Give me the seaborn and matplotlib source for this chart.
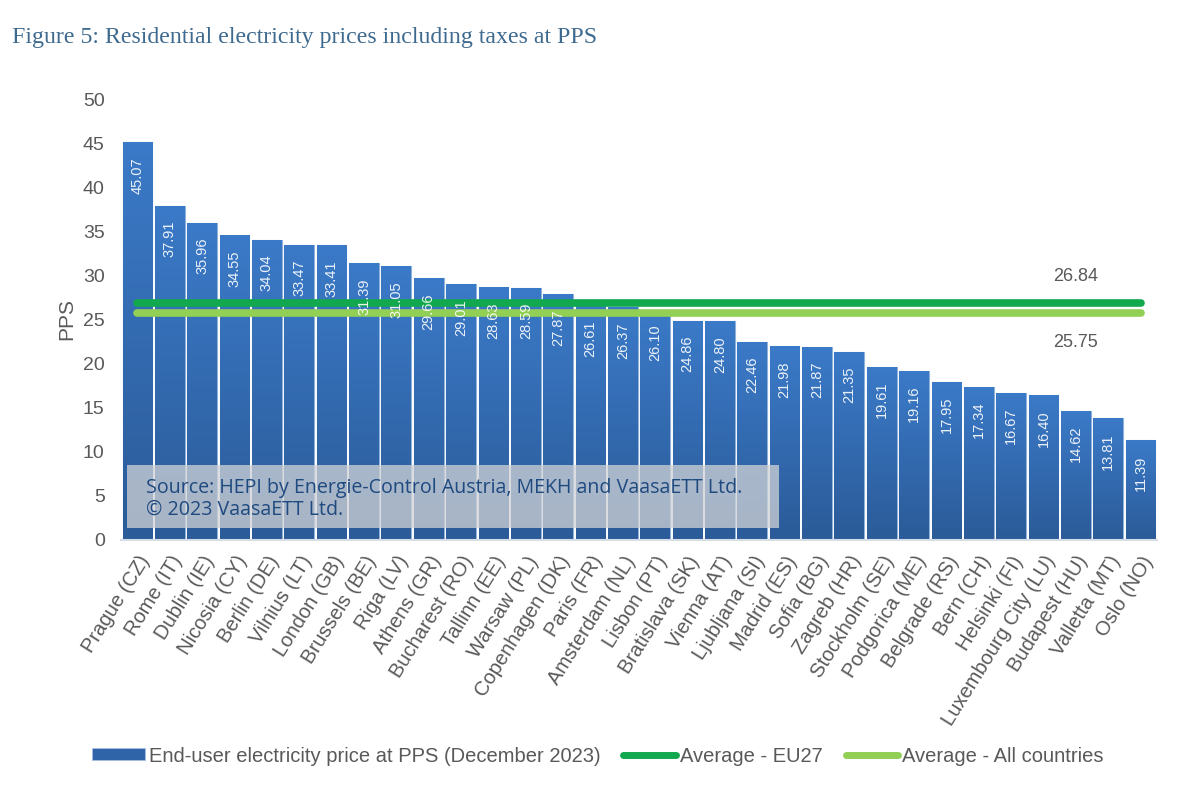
"""Figure 5: residential electricity prices including taxes at PPS."""

import matplotlib

matplotlib.use("Agg")
import matplotlib.pyplot as plt
import numpy as np
import seaborn as sns
from matplotlib.colors import LinearSegmentedColormap
from matplotlib.patches import Patch, Rectangle

cities = [
    "Prague (CZ)", "Rome (IT)", "Dublin (IE)", "Nicosia (CY)", "Berlin (DE)", "Vilnius (LT)",
    "London (GB)", "Brussels (BE)", "Riga (LV)", "Athens (GR)", "Bucharest (RO)", "Tallinn (EE)",
    "Warsaw (PL)", "Copenhagen (DK)", "Paris (FR)", "Amsterdam (NL)", "Lisbon (PT)",
    "Bratislava (SK)", "Vienna (AT)", "Ljubljana (SI)", "Madrid (ES)", "Sofia (BG)", "Zagreb (HR)",
    "Stockholm (SE)", "Podgorica (ME)", "Belgrade (RS)", "Bern (CH)", "Helsinki (FI)",
    "Luxembourg City (LU)", "Budapest (HU)", "Valletta (MT)", "Oslo (NO)",
]
prices = [
    45.07, 37.91, 35.96, 34.55, 34.04, 33.47, 33.41, 31.39, 31.05, 29.66, 29.01, 28.63,
    28.59, 27.87, 26.61, 26.37, 26.10, 24.86, 24.80, 22.46, 21.98, 21.87, 21.35, 19.61,
    19.16, 17.95, 17.34, 16.67, 16.40, 14.62, 13.81, 11.39,
]
avg_eu27 = 26.84
avg_all = 25.75
y_ticks = [0, 5, 10, 15, 20, 25, 30, 35, 40, 45, 50]

GREY = "#595959"
DARK_GREEN = "#12a84e"
LIGHT_GREEN = "#92cf55"

sns.set_style("white")
plt.rcParams["font.family"] = ["Liberation Sans", "DejaVu Sans"]

fig = plt.figure(figsize=(12, 7.95), dpi=100)
ax = fig.add_axes([121.3 / 1200, 1 - 540 / 795, 1035.4 / 1200, 441 / 795])

sns.barplot(x=cities, y=prices, width=0.92, color="#3b7ac8", saturation=1, ax=ax)
bars = ax.containers[0]

# Each bar gets its own vertical gradient
bar_cmap = LinearSegmentedColormap.from_list("bar", ["#3b7ac8", "#2b5b98"])
gradient = np.linspace(0, 1, 256)[:, None]
for patch in bars:
    x0, w, h = patch.get_x(), patch.get_width(), patch.get_height()
    patch.set_edgecolor("#8fb2da")
    patch.set_linewidth(0.8)
    im = ax.imshow(gradient, cmap=bar_cmap, extent=(x0, x0 + w, 0, h), aspect="auto", zorder=2,
                   interpolation="nearest")
    im.set_clip_path(patch)

sns.lineplot(x=cities, y=[avg_eu27] * len(cities), color=DARK_GREEN, linewidth=5.5,
             sort=False, solid_capstyle="round", zorder=3, ax=ax)
sns.lineplot(x=cities, y=[avg_all] * len(cities), color=LIGHT_GREEN, linewidth=5.5,
             sort=False, solid_capstyle="round", zorder=3, ax=ax)

ax.bar_label(bars, fmt="%.2f", rotation=90, padding=-37, fontsize=10.5, color="white", alpha=0.9, zorder=4)

# Average labels sit over Budapest
ax.annotate(f"{avg_eu27:.2f}", (29, avg_eu27), xytext=(0, 19), textcoords="offset points",
            ha="center", va="center", fontsize=13, color=GREY)
ax.annotate(f"{avg_all:.2f}", (29, avg_all), xytext=(0, -21), textcoords="offset points",
            ha="center", va="center", fontsize=13, color=GREY)

ax.set_xlim(-0.5, len(cities) - 0.5)
ax.set_ylim(0, 50)
ax.set_yticks(y_ticks)
ax.tick_params(axis="y", length=0, pad=12, labelsize=14, labelcolor=GREY)
ax.tick_params(axis="x", length=0, pad=9, labelsize=14.5, labelcolor=GREY)
plt.setp(ax.get_xticklabels(), rotation=58, ha="right", va="top", rotation_mode="anchor")
ax.set_ylabel("PPS", fontsize=15, color=GREY, labelpad=5)
ax.grid(False)
for side in ["top", "left", "right"]:
    ax.spines[side].set_visible(False)
ax.spines["bottom"].set_color("#d5dde6")
ax.spines["bottom"].set_linewidth(1.5)

# Source box over the bars
ax.add_patch(Rectangle((0.0055, 0.027), 0.63, 0.143, transform=ax.transAxes,
                       facecolor="#d1d3d6", alpha=0.75, edgecolor="none", zorder=5))
ax.text(0.024, 0.1175, "Source: HEPI by Energie-Control Austria, MEKH and VaasaETT Ltd.",
        transform=ax.transAxes, ha="left", va="center", fontsize=14.1, color="#1f4a80",
        family="Open Sans", zorder=6)
ax.text(0.024, 0.0685, "© 2023 VaasaETT Ltd.", transform=ax.transAxes, ha="left", va="center",
        fontsize=14.1, color="#1f4a80", family="Open Sans", zorder=6)

fig.text(12 / 1200, 1 - 38 / 795, "Figure 5: Residential electricity prices including taxes at PPS",
         ha="left", va="center", fontsize=17.2, color="#3f6a8f", family="Liberation Serif")

handles = [
    Patch(facecolor="#2f64a8", edgecolor="#a8c3e2", linewidth=0.5),
    plt.Line2D([], [], color=DARK_GREEN, linewidth=5, solid_capstyle="round"),
    plt.Line2D([], [], color=LIGHT_GREEN, linewidth=5, solid_capstyle="round"),
]
labels = ["End-user electricity price at PPS (December 2023)", "Average - EU27", "Average - All countries"]
fig.legend(handles, labels, loc="center", bbox_to_anchor=(598 / 1200, 1 - 756 / 795), ncol=3,
           frameon=False, fontsize=14.5, labelcolor=GREY, handlelength=2.6, handleheight=0.55,
           handletextpad=0.2, columnspacing=1.15, borderpad=0)

fig.savefig("out.png", dpi=100)
